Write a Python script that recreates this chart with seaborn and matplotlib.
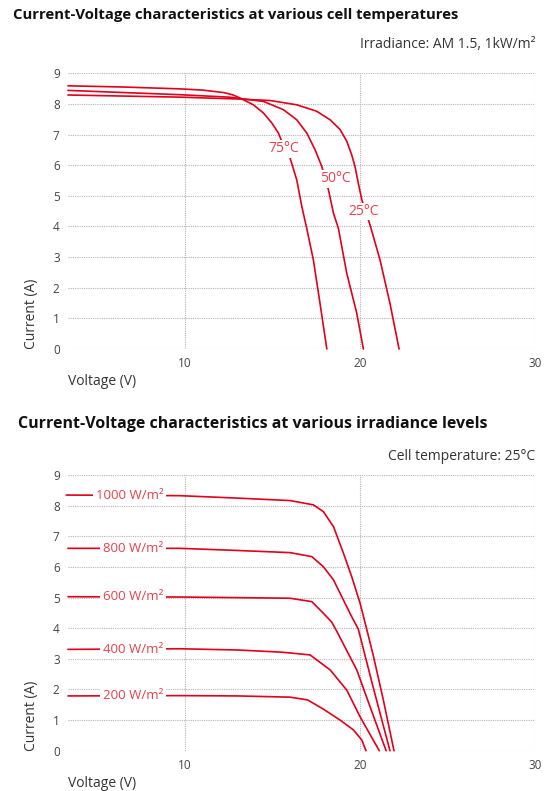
import matplotlib
matplotlib.use("Agg")
import matplotlib.pyplot as plt
import seaborn as sns
import pandas as pd

# --- data ---
temp_labels = ["75°C", "50°C", "25°C"]
temp_v = [
    [3.3, 6.5, 9.7, 11.0, 12.2, 12.7, 13.14, 13.9, 14.48, 14.95, 15.33, 15.52, 16.0, 16.38,
     16.67, 16.95, 17.33, 17.71, 18.1],
    [3.3, 9.7, 12.5, 14.48, 15.62, 16.38, 16.95, 17.43, 17.81, 18.19, 18.48, 18.76, 19.24,
     19.81, 20.19],
    [3.3, 9.7, 13.0, 14.86, 16.38, 17.52, 18.29, 18.86, 19.24, 19.52, 19.71, 19.9, 20.1,
     20.57, 21.14, 21.71, 22.23],
]
temp_i = [
    [8.59, 8.55, 8.49, 8.45, 8.37, 8.30, 8.19, 7.97, 7.70, 7.38, 7.05, 6.78, 6.23, 5.52,
     4.65, 3.94, 2.91, 1.49, 0.0],
    [8.44, 8.30, 8.22, 8.08, 7.81, 7.48, 7.05, 6.50, 5.96, 5.20, 4.43, 3.94, 2.47, 1.17, 0.0],
    [8.29, 8.22, 8.16, 8.11, 7.97, 7.76, 7.48, 7.16, 6.78, 6.34, 5.96, 5.41, 4.87, 4.05,
     2.91, 1.49, 0.0],
]
temp_label_pos = [(15.66, 6.54), (18.57, 5.56), (20.23, 4.49)]

irr_labels = ["1000 W/m²", "800 W/m²", "600 W/m²", "400 W/m²", "200 W/m²"]
irr_v = [
    [3.2, 9.7, 13.0, 16.0, 17.33, 17.9, 18.48, 19.05, 19.52, 20.0, 20.38, 20.76, 21.33, 21.94],
    [3.3, 9.7, 13.0, 16.0, 17.24, 17.9, 18.48, 19.05, 19.52, 19.9, 20.76, 21.71],
    [3.3, 9.7, 13.0, 16.0, 17.24, 17.9, 18.38, 18.67, 19.81, 20.57, 21.49],
    [3.3, 9.7, 13.0, 15.5, 17.14, 18.29, 19.24, 20.0, 21.1],
    [3.3, 9.7, 13.0, 16.0, 17.0, 17.9, 18.86, 19.62, 20.1, 20.34],
]
irr_i = [
    [8.35, 8.33, 8.25, 8.17, 8.03, 7.81, 7.32, 6.45, 5.69, 4.82, 3.97, 3.10, 1.66, 0.0],
    [6.61, 6.61, 6.54, 6.47, 6.34, 6.01, 5.58, 4.92, 4.38, 3.97, 2.05, 0.0],
    [5.03, 5.02, 5.00, 4.98, 4.87, 4.49, 4.20, 3.90, 2.64, 1.44, 0.0],
    [3.31, 3.33, 3.29, 3.22, 3.13, 2.64, 1.98, 1.11, 0.0],
    [1.79, 1.80, 1.79, 1.75, 1.66, 1.36, 1.00, 0.68, 0.35, 0.0],
]
irr_label_v = 8.75

x_ticks = [10, 20, 30]
y_ticks = list(range(10))

LINE = "#e2001a"
LABEL = "#e8414a"
GRID = "#b5b5b5"

sns.set_theme(style="white")
plt.rcParams["font.family"] = ["Open Sans", "DejaVu Sans"]

fig = plt.figure(figsize=(5.59, 7.91), dpi=100)
ax1 = fig.add_axes([0.1216, 0.5588, 0.8354, 0.3486])
ax2 = fig.add_axes([0.1216, 0.0509, 0.8354, 0.3484])


def style_axes(ax):
    ax.set_xlim(3.3, 30)
    ax.set_ylim(0, 9)
    ax.set_xticks(x_ticks)
    ax.set_yticks(y_ticks)
    ax.grid(True, color=GRID, linestyle=(0, (1, 1)), linewidth=0.8)
    for s in ax.spines.values():
        s.set_visible(False)
    ax.tick_params(length=0, labelsize=8.5, colors="#444444", pad=6)
    ax.set_xlabel("Voltage (V)", loc="left", fontsize=10, color="#333333", labelpad=3)
    ax.set_ylabel("Current (A)", loc="bottom", fontsize=10, color="#333333", labelpad=10)
    ax.set_axisbelow(True)


# top: temperatures
for lab, v, i in zip(temp_labels, temp_v, temp_i):
    df = pd.DataFrame({"V": v, "I": i})
    sns.lineplot(data=df, x="V", y="I", ax=ax1, color=LINE, linewidth=1.2, clip_on=False)
for lab, (x, y) in zip(temp_labels, temp_label_pos):
    ax1.text(x, y, lab, color=LABEL, fontsize=10, ha="center", va="center",
             bbox=dict(facecolor="white", edgecolor="none", pad=1))
style_axes(ax1)

# bottom: irradiance
for lab, v, i in zip(irr_labels, irr_v, irr_i):
    df = pd.DataFrame({"V": v, "I": i})
    sns.lineplot(data=df, x="V", y="I", ax=ax2, color=LINE, linewidth=1.2, clip_on=False)
    ax2.text(irr_label_v, i[0], lab, color=LABEL, fontsize=9.5, ha="right", va="center",
             bbox=dict(facecolor="white", edgecolor="none", pad=2))
style_axes(ax2)

fig.text(13 / 559, 1 - 15 / 791, "Current-Voltage characteristics at various cell temperatures",
         fontsize=10.7, fontweight="bold", color="#111111", ha="left", va="center")
fig.text(535 / 559, 1 - 45 / 791, "Irradiance: AM 1.5, 1kW/m²",
         fontsize=10, color="#333333", ha="right", va="center")
fig.text(18 / 559, 1 - 424 / 791, "Current-Voltage characteristics at various irradiance levels",
         fontsize=11.5, fontweight="bold", color="#111111", ha="left", va="center")
fig.text(535 / 559, 1 - 456 / 791, "Cell temperature: 25°C",
         fontsize=10, color="#333333", ha="right", va="center")

fig.savefig("out.png", dpi=100)
